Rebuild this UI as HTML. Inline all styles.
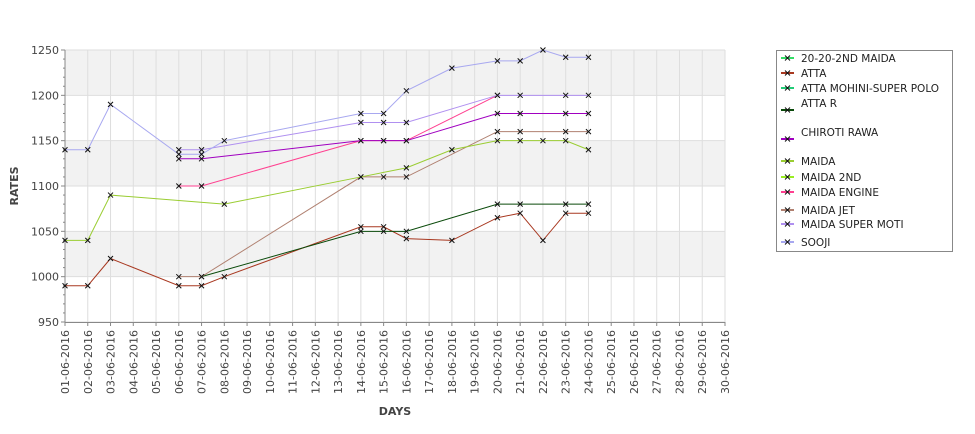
<!DOCTYPE html>
<html><head><meta charset="utf-8"><style>
body{margin:0;background:#fff;font-family:"Liberation Sans","DejaVu Sans",sans-serif}
svg text{font-family:"DejaVu Sans","Liberation Sans",sans-serif}
</style></head><body>
<svg id="c" width="975" height="429"></svg>
<script>
const days=[];for(let d=1;d<=30;d++)days.push((d<10?'0':'')+d+'-06-2016');
const yTicks=[950,1000,1050,1100,1150,1200,1250];
const names=["20-20-2ND MAIDA","ATTA","ATTA MOHINI-SUPER POLO","ATTA R","CHIROTI RAWA","MAIDA","MAIDA 2ND","MAIDA ENGINE","MAIDA JET","MAIDA SUPER MOTI","SOOJI"];
const colors=["#33dd66","#a83820","#22cc77","#0a4a0a","#a000c0","#9acd32","#99ee22","#ff4090","#b08070","#b090f0","#a8a8f0"];
const attaDays=[1,2,3,6,7,8,14,15,16,18,20,21,22,23,24];
const attaVals=[990,990,1020,990,990,1000,1055,1055,1042,1040,1065,1070,1040,1070,1070];
const attaRDays=[7,14,15,16,20,21,23,24];
const attaRVals=[1000,1050,1050,1050,1080,1080,1080,1080];
const jetDays=[6,7,14,15,16,20,21,23,24];
const jetVals=[1000,1000,1110,1110,1110,1160,1160,1160,1160];
const maidaDays=[1,2,3,8,14,16,18,20,21,22,23,24];
const maidaVals=[1040,1040,1090,1080,1110,1120,1140,1150,1150,1150,1150,1140];
const engineDays=[6,7,14,15,16,20];
const engineVals=[1100,1100,1150,1150,1150,1200];
const chirotiDays=[6,7,14,15,16,20,21,23,24];
const chirotiVals=[1130,1130,1150,1150,1150,1180,1180,1180,1180];
const motiDays=[6,7,14,15,16,20,21,23,24];
const motiVals=[1140,1140,1170,1170,1170,1200,1200,1200,1200];
const soojiDays=[1,2,3,6,7,8,14,15,16,18,20,21,22,23,24];
const soojiVals=[1140,1140,1190,1135,1135,1150,1180,1180,1205,1230,1238,1238,1250,1242,1242];
const series=[[1,attaDays,attaVals,'atta'],[3,attaRDays,attaRVals,'atta-r'],[8,jetDays,jetVals,'maida-jet'],[5,maidaDays,maidaVals,'maida'],[7,engineDays,engineVals,'maida-engine'],[4,chirotiDays,chirotiVals,'chiroti-rawa'],[9,motiDays,motiVals,'maida-super-moti'],[10,soojiDays,soojiVals,'sooji']];
const X0=65,X1=725,Y0=322,Y1=50;
const x=d=>X0+(d-1)*(X1-X0)/29;
const y=v=>Y0-(v-950)*(Y0-Y1)/300;
const svg=document.getElementById('c');const NS='http://www.w3.org/2000/svg';
function mk(t,a,p){const e=document.createElementNS(NS,t);for(const k in a)e.setAttribute(k,a[k]);(p||svg).appendChild(e);return e;}
for(let i=1;i<6;i+=2){const r=mk('rect',{x:X0,y:y(yTicks[i+1]),width:X1-X0,height:y(yTicks[i])-y(yTicks[i+1]),fill:'#f2f2f2'});

}
const gl=mk('g',{stroke:'#dedede','stroke-width':1});


days.forEach((d,i)=>mk('line',{x1:x(i+1),x2:x(i+1),y1:Y1,y2:Y0},gl));
yTicks.forEach(v=>mk('line',{x1:X0,x2:X1,y1:y(v),y2:y(v)},gl));
const ax=mk('g',{stroke:'#888','stroke-width':1});


mk('line',{x1:X0,x2:X0,y1:Y1,y2:Y0+1},ax);mk('line',{x1:X0,x2:X1,y1:Y0+0.5,y2:Y0+0.5},ax);
for(let v=950;v<=1250;v+=10)mk('line',{x1:X0-(v%50?2:4),x2:X0,y1:y(v),y2:y(v)},ax);
days.forEach((d,i)=>mk('line',{x1:x(i+1),x2:x(i+1),y1:Y0,y2:Y0+4},ax));
yTicks.forEach(v=>{const t=mk('text',{x:X0-6,y:y(v)+4,'text-anchor':'end','font-size':11,fill:'#444'});t.textContent=v;

});
days.forEach((d,i)=>{const t=mk('text',{transform:`translate(${x(i+1)+4},${Y0+8}) rotate(-90)`,'text-anchor':'end','font-size':11,fill:'#444'});t.textContent=d;

});
let t=mk('text',{x:395,y:415,'text-anchor':'middle','font-size':11,'font-weight':'bold',fill:'#444'});t.textContent='DAYS';


t=mk('text',{transform:'translate(18,186) rotate(-90)','text-anchor':'middle','font-size':11,'font-weight':'bold',fill:'#444'});t.textContent='RATES';


function cross(g,cx,cy,c){mk('path',{d:`M${cx-2.5},${cy-2.5}L${cx+2.5},${cy+2.5}M${cx-2.5},${cy+2.5}L${cx+2.5},${cy-2.5}`,stroke:c,'stroke-width':1,fill:'none'},g);}
series.forEach(([ci,ds,vs,nm])=>{const g=mk('g',{});


mk('polyline',{points:ds.map((d,i)=>x(d)+','+y(vs[i])).join(' '),fill:'none',stroke:colors[ci],'stroke-width':1},g);
ds.forEach((d,i)=>cross(g,x(d),y(vs[i]),'#111'));});
const lg=mk('g',{});


mk('rect',{x:776.5,y:50.5,width:176,height:201,fill:'#fff',stroke:'#888'},lg);
const ty=[62,77,92,107,136,165,181,196,214,228,246],iy=[58,73,88,110,139,161,177,192,210,224,242];
names.forEach((n,i)=>{const g=mk('g',{},lg);


mk('line',{x1:781,x2:794,y1:iy[i],y2:iy[i],stroke:colors[i],'stroke-width':2},g);cross(g,787.5,iy[i],'#111');
const tx=mk('text',{x:801,y:ty[i],'font-size':10.5,fill:'#222'},g);tx.textContent=n;});
</script>
</body></html>
